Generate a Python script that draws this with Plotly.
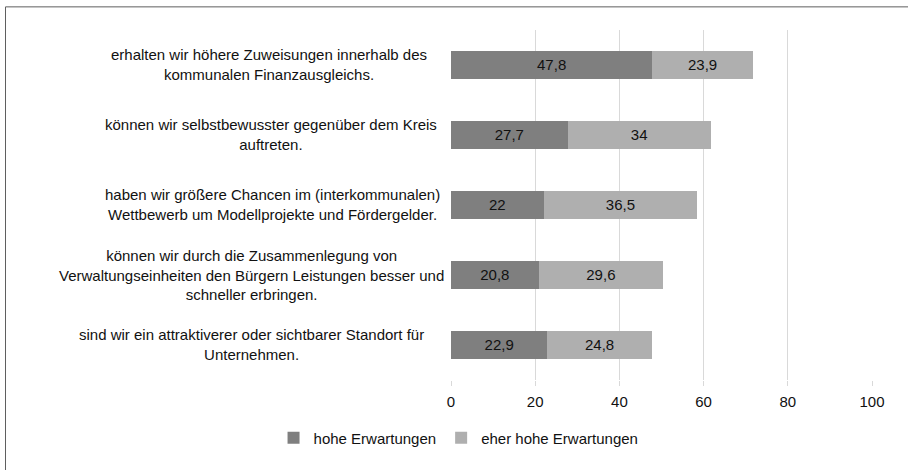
import plotly.graph_objects as go

categories = [
    "erhalten wir höhere Zuweisungen innerhalb des<br>kommunalen Finanzausgleichs.",
    "können wir selbstbewusster gegenüber dem Kreis<br>auftreten.",
    "haben wir größere Chancen im (interkommunalen)<br>Wettbewerb um Modellprojekte und Fördergelder.",
    "können wir durch die Zusammenlegung von<br>Verwaltungseinheiten den Bürgern Leistungen besser und<br>schneller erbringen.",
    "sind wir ein attraktiverer oder sichtbarer Standort für<br>Unternehmen.",
]
hohe = [47.8, 27.7, 22, 20.8, 22.9]
eher_hohe = [23.9, 34, 36.5, 29.6, 24.8]
series_names = ["hohe Erwartungen", "eher hohe Erwartungen"]
tick_vals = [0, 20, 40, 60, 80, 100]

ids = list(range(len(categories)))

def fmt(v):
    return f"{v:g}".replace(".", ",")

FONT = "Liberation Sans, Arial, sans-serif"
TXT = "#111111"
FS = 15

# plot area in pixels
L, R, T, B = 451, 872, 30, 385
W, H = 908, 470

def px_x(p):
    return (p - L) / (R - L)

def px_y(p):
    return (B - p) / (B - T)

fig = go.Figure()
for name, vals, color in [(series_names[0], hohe, "#7f7f7f"), (series_names[1], eher_hohe, "#afafaf")]:
    fig.add_trace(go.Bar(
        y=ids, x=vals, name=name, orientation="h",
        marker=dict(color=color, line=dict(width=0)),
        text=[fmt(v) for v in vals], textposition="inside",
        insidetextanchor="middle",
        textfont=dict(family=FONT, size=FS, color=TXT),
        width=0.4,
    ))

# horizontal centre (px) of each category label block
label_centers_px = [269, 271, 272, 251, 251]
for i, c, cx in zip(ids, categories, label_centers_px):
    fig.add_annotation(x=px_x(cx), xref="paper", y=i, yref="y",
                       text=c, showarrow=False, xanchor="center", align="center",
                       font=dict(family=FONT, size=FS, color=TXT))

# outer frame (left and top edges visible in the crop)
frame = dict(color="#5f5f5f", width=1)
fig.add_shape(type="line", xref="paper", yref="paper",
              x0=px_x(5.5), x1=px_x(5.5), y0=px_y(480), y1=px_y(6.5), line=frame)
fig.add_shape(type="line", xref="paper", yref="paper",
              x0=px_x(5.5), x1=px_x(920), y0=px_y(6.5), y1=px_y(6.5), line=frame)

fig.update_layout(
    width=W, height=H,
    margin=dict(l=L, r=W - R, t=T, b=H - B),
    barmode="stack",
    plot_bgcolor="white", paper_bgcolor="white",
    font=dict(family=FONT, size=FS, color=TXT),
    xaxis=dict(range=[0, 100], tickvals=tick_vals, showgrid=True, gridcolor="#d9d9d9",
               gridwidth=1, zeroline=False, showline=False, ticks="outside",
               ticklen=5, tickcolor="#d9d9d9", ticklabelstandoff=3,
               tickfont=dict(size=FS, family=FONT, color=TXT)),
    yaxis=dict(range=[4.5, -0.5], autorange=False, showticklabels=False, showgrid=False,
               zeroline=False),
    legend=dict(orientation="h", xref="container", yref="container", x=0.505, y=1 - 438 / H,
                xanchor="center", yanchor="middle", font=dict(family=FONT, size=FS, color=TXT),
                itemwidth=30, traceorder="normal"),
    showlegend=True,
)

fig.write_html("out.html", config={"displayModeBar": False},
               post_script="document.body.style.margin='0';")
